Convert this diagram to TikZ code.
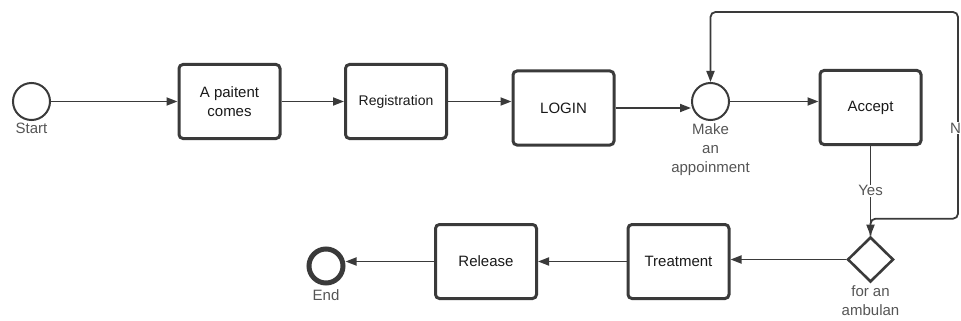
\documentclass[tikz,border=0pt]{standalone}
\usepackage{fontspec}
\setmainfont{Liberation Sans}
\usetikzlibrary{positioning, shapes.geometric, arrows.meta}
\definecolor{lineColor}{RGB}{58,58,58}
\definecolor{labelColor}{RGB}{85,85,85}
\definecolor{taskTextColor}{RGB}{25,25,25}
\newcommand{\flowFont}{\fontsize{15}{19}\selectfont}
\tikzstyle{flowchart} = [x = 1pt, y = -1pt, every node/.style={font=\flowFont}]
\tikzstyle{taskBox} = [draw=lineColor, line width=3pt, rounded corners=4pt, minimum width=101pt, minimum height=74pt, align=center, text=taskTextColor]
\tikzstyle{eventCircle} = [draw=lineColor, circle, line width=2pt, minimum size=37pt, inner sep=0pt]
\tikzstyle{endCircle} = [draw=lineColor, circle, line width=5pt, minimum size=34pt, inner sep=0pt]
\tikzstyle{gateway} = [draw=lineColor, diamond, line width=2.6pt, minimum width=46pt, minimum height=45pt, inner sep=0pt]
\tikzstyle{eventText} = [text=labelColor, align=center, inner sep=1pt]
\tikzstyle{flowLine} = [draw=lineColor, line width=1.8pt, -{Triangle[length=11pt,width=8pt]}]
\tikzstyle{flowLabel} = [text=labelColor, fill=white, inner sep=1pt]
\begin{document}
\begin{tikzpicture}[flowchart]
  \useasboundingbox (0,0) rectangle (961,321);
  \node [eventCircle] (start) at (31.5,101.5) {};
  \node [eventText, below=1pt of start] (startText) {Start};
  \node [taskBox] (patient) at (229.5,101.5) {A paitent\\comes};
  \node [taskBox, font=\fontsize{14}{17}\selectfont] (registration) at (396,101.5) {Registration};
  \node [taskBox] (login) at (563.5,108) {LOGIN};
  \node [eventCircle] (appointment) at (710.5,101.5) {};
  \node [eventText, below=1pt of appointment] (appointmentText) {Make\\an\\appoinment};
  \node [taskBox] (accept) at (870.5,107.5) {Accept};
  \node [gateway] (ambulance) at (870.5,259.5) {};
  \node [eventText, below=1pt of ambulance] (ambulanceText) {for an\\ambulan};
  \node [taskBox] (treatment) at (678.5,261.5) {Treatment};
  \node [taskBox] (release) at (486,261.5) {Release};
  \node [endCircle] (end) at (326,266) {};
  \node [eventText, below=3pt of end] (endText) {End};
  \coordinate (loopCorner) at (958,12);

  \draw [flowLine] (start) -- (patient);
  \draw [flowLine] (patient) -- (registration);
  \draw [flowLine] (registration.east) -- (registration.east -| login.west);
  \draw [flowLine] (login.east) -- (login.east -| appointment.west);
  \draw [flowLine] (appointment.east) -- (appointment.east -| accept.west);
  \draw [flowLine] (accept) -- node [flowLabel] (yesText) {Yes} (ambulance);
  \draw [flowLine, rounded corners=5pt] (ambulance.north) -- ++(0,-17) -| (loopCorner) -| (appointment.north);
  \node [flowLabel] (noText) at (955.5,128) {N};
  \draw [flowLine] (ambulance.west) -- (ambulance.west -| treatment.east);
  \draw [flowLine] (treatment) -- (release);
  \draw [flowLine] (release.west) -- (release.west -| end.east);
\end{tikzpicture}
\end{document}
